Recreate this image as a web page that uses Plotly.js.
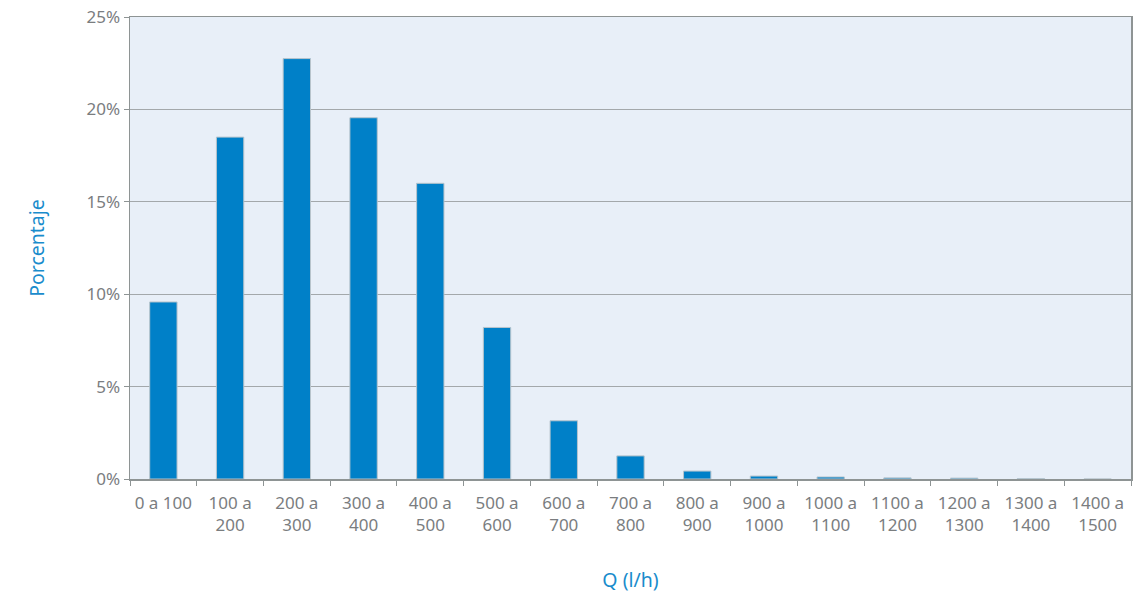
<!DOCTYPE html>
<html>
<head>
<meta charset="utf-8">
<script src="https://cdn.plot.ly/plotly-3.0.1.min.js"></script>
<style>html,body{margin:0;padding:0;background:#fff}#chart{width:1142px;height:593px}</style>
</head>
<body>
<div id="chart"></div>
<script>
const categories = ["0 a 100","100 a<br>200","200 a<br>300","300 a<br>400","400 a<br>500","500 a<br>600","600 a<br>700","700 a<br>800","800 a<br>900","900 a<br>1000","1000 a<br>1100","1100 a<br>1200","1200 a<br>1300","1300 a<br>1400","1400 a<br>1500"];
const percentages = [9.58, 18.5, 22.75, 19.55, 16.0, 8.2, 3.15, 1.25, 0.43, 0.16, 0.11, 0.06, 0.05, 0.015, 0.0];
const yTickVals = [0, 5, 10, 15, 20, 25];
const yTickText = ["0%", "5%", "10%", "15%", "20%", "25%"];

const trace = {
  type: "bar",
  x: categories,
  y: percentages,
  width: 0.41,
  marker: { color: "#0080c8", line: { color: "#b8c4cc", width: 1 } },
  hoverinfo: "x+y"
};

const layout = {
  width: 1142, height: 593,
  margin: { l: 130, r: 11, t: 17, b: 114 },
  paper_bgcolor: "#ffffff",
  plot_bgcolor: "#e8eff8",
  showlegend: false,
  font: { family: "Noto Sans, Open Sans, sans-serif", color: "#7a7d7f", size: 16 },
  xaxis: {
    type: "category",
    showline: true, mirror: true, linecolor: "#8e9494", linewidth: 1.5,
    ticks: "outside", tickson: "boundaries", ticklen: 5, tickcolor: "#8e9494",
    ticklabelstandoff: 8,
    showgrid: false,
    tickfont: { size: 17, color: "#7a7d7f" },
    title: { text: "Q (l/h)", font: { size: 19.5, color: "#1a8ccc" }, standoff: 44 }
  },
  yaxis: {
    range: [0, 25],
    tickvals: yTickVals, ticktext: yTickText,
    showline: true, mirror: true, linecolor: "#8e9494", linewidth: 1.5,
    ticks: "outside", ticklen: 5, tickcolor: "#8e9494",
    showgrid: true, gridcolor: "#a3a8ab", gridwidth: 1,
    zeroline: false,
    tickfont: { size: 17, color: "#7a7d7f" },
    title: { text: "Porcentaje", font: { size: 19.5, color: "#1a8ccc" }, standoff: 36 }
  }
};

Plotly.newPlot("chart", [trace], layout, { displayModeBar: false, staticPlot: true });
</script>
</body>
</html>
